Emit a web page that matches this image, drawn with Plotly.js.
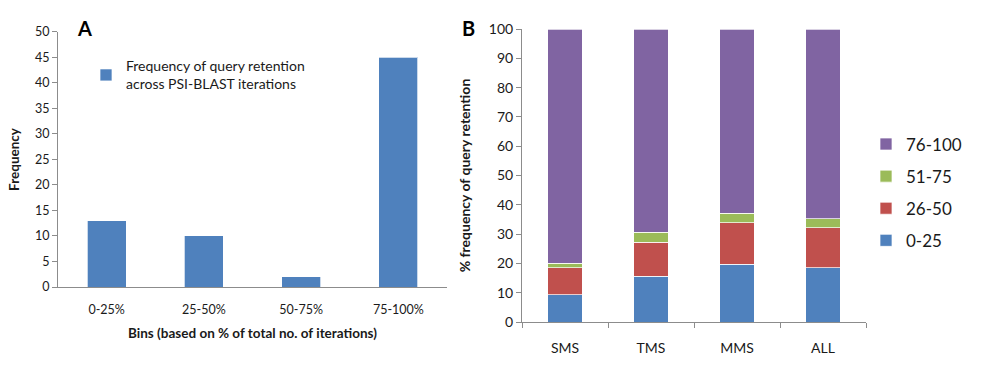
<!DOCTYPE html>
<html><head><meta charset="utf-8">
<script src="https://cdn.plot.ly/plotly-3.0.1.min.js"></script>
<style>html,body{margin:0;padding:0;background:#fff}#chart{width:1000px;height:372px}</style>
</head><body><div id="chart"></div>
<script>
// Panel A data
const binsA = ['0-25%', '25-50%', '50-75%', '75-100%'];
const freqA = [13, 10, 2, 45];
const nameA = 'Frequency of query retention<br>across PSI-BLAST iterations';

// Panel B data
const groupsB = ['SMS', 'TMS', 'MMS', 'ALL'];
const s0_25 = [9.3, 15.7, 19.7, 18.5];
const s26_50 = [9.3, 11.6, 14.1, 13.6];
const s51_75 = [1.5, 3.3, 3.3, 3.2];
const s76_100 = [79.9, 69.4, 62.9, 64.7];
const seriesNames = ['0-25', '26-50', '51-75', '76-100'];
const seriesColors = ['#4F81BD', '#C0504D', '#9BBB59', '#8064A2'];

const FONT = 'Lato, "Open Sans", sans-serif';
const TXT = '#1a1a1a';
const AXC = '#8c8c8c';

const traces = [{
  type: 'bar', x: binsA, y: freqA, name: nameA,
  xaxis: 'x', yaxis: 'y', legend: 'legend',
  marker: {color: '#4F81BD', line: {color: 'rgba(255,255,255,0.7)', width: 1}}
}];
[s0_25, s26_50, s51_75, s76_100].forEach((vals, i) => {
  traces.push({
    type: 'bar', x: groupsB, y: vals, name: seriesNames[i],
    xaxis: 'x2', yaxis: 'y2', legend: 'legend2', legendgroup: 'g' + i,
    legendrank: 1000 - i,
    marker: {color: seriesColors[i], line: {color: 'rgba(255,255,255,0.7)', width: 1}}
  });
});

const layout = {
  width: 1000, height: 372,
  margin: {l: 0, r: 0, t: 0, b: 0},
  paper_bgcolor: '#fff', plot_bgcolor: '#fff',
  font: {family: FONT, color: TXT, size: 12},
  barmode: 'stack',
  bargap: 0.6,
  showlegend: true,
  xaxis: {
    domain: [0.058, 0.447], anchor: 'y',
    showline: true, linecolor: AXC, linewidth: 1,
    ticks: '', showgrid: false, zeroline: false,
    ticklabelstandoff: 11,
    tickfont: {size: 12.5, family: FONT, color: TXT},
    title: {text: 'Bins (based on % of total no. of iterations)', font: {size: 13.5, family: FONT, color: TXT, weight: 'bold'}, standoff: 12}
  },
  yaxis: {
    domain: [0.2285, 0.914], anchor: 'x', range: [0, 50],
    tickvals: [0, 5, 10, 15, 20, 25, 30, 35, 40, 45, 50],
    showline: true, linecolor: AXC, linewidth: 1,
    ticks: 'outside', ticklen: 5, tickcolor: AXC,
    showgrid: false, zeroline: false,
    tickfont: {size: 12.5, family: FONT, color: TXT},
    title: {text: 'Frequency', font: {size: 13.5, family: FONT, color: TXT, weight: 'bold'}, standoff: 12}
  },
  xaxis2: {
    domain: [0.522, 0.866], anchor: 'y2',
    showline: true, linecolor: AXC, linewidth: 1,
    ticks: 'outside', tickson: 'boundaries', ticklen: 5, tickcolor: AXC,
    ticklabelstandoff: 13,
    showgrid: false, zeroline: false,
    tickfont: {size: 14, family: FONT, color: TXT}
  },
  yaxis2: {
    domain: [0.1344, 0.922], anchor: 'x2', range: [0, 100],
    tickvals: [0, 10, 20, 30, 40, 50, 60, 70, 80, 90, 100],
    showline: true, linecolor: AXC, linewidth: 1,
    ticks: 'outside', ticklen: 5, tickcolor: AXC,
    showgrid: false, zeroline: false,
    tickfont: {size: 14, family: FONT, color: TXT},
    title: {text: '% frequency of query retention', font: {size: 14, family: FONT, color: TXT, weight: 'bold'}, standoff: 14}
  },
  legend: {
    x: 0.086, y: 0.865, xanchor: 'left', yanchor: 'top',
    bgcolor: 'rgba(0,0,0,0)', font: {size: 14, family: FONT, color: TXT}
  },
  legend2: {
    x: 0.866, y: 0.66, xanchor: 'left', yanchor: 'top',
    tracegroupgap: 7,
    bgcolor: 'rgba(0,0,0,0)', font: {size: 17, family: FONT, color: TXT}
  },
  annotations: [
    {text: '<b>A</b>', xref: 'paper', yref: 'paper', x: 0.084, y: (372 - 28) / 372, xanchor: 'center', yanchor: 'middle', showarrow: false, font: {size: 20, family: FONT, color: '#000'}},
    {text: '<b>B</b>', xref: 'paper', yref: 'paper', x: 0.468, y: (372 - 28) / 372, xanchor: 'center', yanchor: 'middle', showarrow: false, font: {size: 20, family: FONT, color: '#000'}}
  ]
};

Plotly.newPlot('chart', traces, layout, {displayModeBar: false, staticPlot: true});
</script></body></html>
